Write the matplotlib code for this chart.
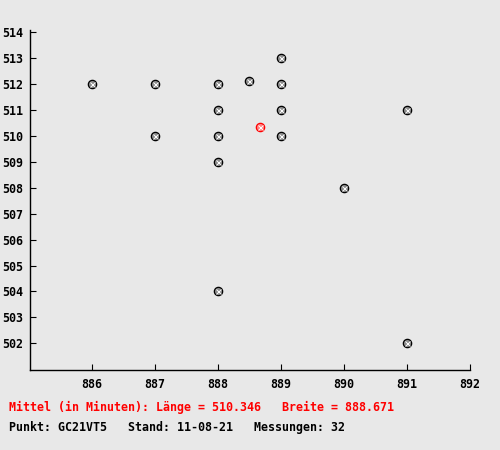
import matplotlib
matplotlib.use('Agg')
import matplotlib.pyplot as plt

# Messpunkte (Breite = x, Laenge = y)
breite = [886, 887, 887, 888, 888, 888, 888, 888, 888.5, 889, 889, 889, 889, 890, 891, 891]
laenge = [512, 512, 510, 512, 511, 510, 509, 504, 512.12, 513, 512, 511, 510, 508, 511, 502]
mittel_breite = 888.671
mittel_laenge = 510.346
xticks = [886, 887, 888, 889, 890, 891, 892]
yticks = list(range(502, 515))

bg = '#e8e8e8'
font = {'family': 'DejaVu Sans Mono', 'weight': 'bold', 'size': 8.4}

fig = plt.figure(figsize=(5, 4.5), dpi=100, facecolor=bg)
ax = fig.add_axes([30 / 500, 1 - 370 / 450, 440 / 500, 340 / 450])
ax.set_facecolor(bg)

# Kreis mit Gittermuster nachgebildet: grauer Kreis, schwarzer Rand, Kreuz
ax.plot(breite, laenge, 'o', ms=6, mfc='#8a8a8a', mec='black', mew=0.9, zorder=3)
ax.plot(breite, laenge, 'x', ms=3.6, mec='white', mew=0.7, zorder=4)
ax.plot([mittel_breite], [mittel_laenge], 'o', ms=6, mfc='#ff8080', mec='red', mew=0.9, zorder=5)
ax.plot([mittel_breite], [mittel_laenge], 'x', ms=3.6, mec='white', mew=0.7, zorder=6)

ax.set_xlim(885.016, 892)
ax.set_ylim(500.97, 514.09)
ax.set_xticks(xticks)
ax.set_yticks(yticks)
ax.set_xticklabels([str(t) for t in xticks], fontdict=font)
ax.set_yticklabels([str(t) for t in yticks], fontdict=font)
ax.tick_params(direction='in', length=4, width=0.8, pad=6)
ax.tick_params(axis='y', pad=5)
for s in ['top', 'right']:
    ax.spines[s].set_visible(False)
for s in ['left', 'bottom']:
    ax.spines[s].set_linewidth(1.0)

fig.text(9 / 500, 1 - 407 / 450,
         'Mittel (in Minuten): Länge = %.3f   Breite = %.3f' % (mittel_laenge, mittel_breite),
         color='red', va='center', ha='left', **font)
fig.text(9 / 500, 1 - 427 / 450, 'Punkt: GC21VT5   Stand: 11-08-21   Messungen: 32',
         color='black', va='center', ha='left', **font)

fig.savefig('out.png', dpi=100, facecolor=bg)
